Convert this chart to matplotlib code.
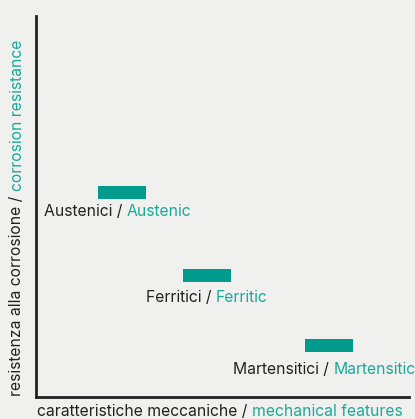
import matplotlib.pyplot as plt

# steel families: italian / english names, position on the chart (0-100 scales)
names_it = ['Austenici', 'Ferritici', 'Martensitici']
names_en = ['Austenic', 'Ferritic', 'Martensitic']
mech = [16.6, 39.4, 72.1]        # left edge of bar, mechanical features
corr = [53.7, 32.0, 13.4]        # bar centre, corrosion resistance
bar_w = 12.9
bar_h = 3.4

# where the labels sit (left edge, vertical centre)
lab_x = [2.1, 29.5, 52.8]
lab_y = [48.6, 26.2, 7.3]

bg = '#f0f0ee'
teal = '#009b8d'
teal_txt = '#1ba99b'
dark = '#222222'
fs = 11.3

plt.rcParams['font.family'] = ['Inter', 'DejaVu Sans']

fig = plt.figure(figsize=(4.15, 4.19), dpi=100, facecolor=bg)
ax = fig.add_axes([36 / 415, 22 / 419, 373 / 415, 381 / 419])
ax.set_facecolor(bg)
ax.set_xlim(0, 100)
ax.set_ylim(0, 100)

ax.barh(corr, [bar_w] * 3, left=mech, height=bar_h, color=teal)

# two-colour labels under each bar
for x, y, it, en in zip(lab_x, lab_y, names_it, names_en):
    t1 = ax.text(x, y, it + ' / ', fontsize=fs, color=dark,
                 va='center', ha='left')
    ax.annotate(en, xy=(1, 0.5), xycoords=t1, fontsize=fs, color=teal_txt,
                va='center', ha='left', annotation_clip=False)

# axis titles, also two colours
xl = fig.text(37 / 415, 1 - 411 / 419, 'caratteristiche meccaniche / ',
              fontsize=fs, color=dark, va='center', ha='left')
ax.annotate('mechanical features', xy=(1, 0.5), xycoords=xl, fontsize=fs,
            color=teal_txt, va='center', ha='left', annotation_clip=False)

yl = fig.text(17 / 415, 1 - 396 / 419, 'resistenza alla corrosione / ',
              fontsize=fs, color=dark, va='bottom', ha='center', rotation=90)
ax.annotate('corrosion resistance', xy=(0.5, 1), xycoords=yl, fontsize=fs,
            color=teal_txt, va='bottom', ha='center', rotation=90,
            annotation_clip=False)

for s in ['top', 'right']:
    ax.spines[s].set_visible(False)
for s in ['left', 'bottom']:
    ax.spines[s].set_linewidth(2)
    ax.spines[s].set_color(dark)
ax.set_xticks([])
ax.set_yticks([])

fig.savefig('out.png', dpi=100, facecolor=bg)
